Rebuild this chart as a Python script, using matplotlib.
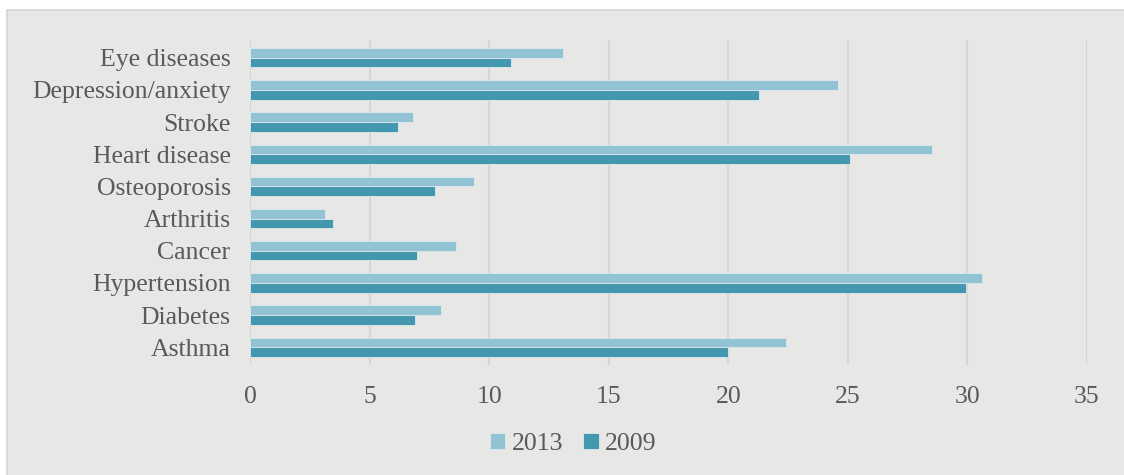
import matplotlib.pyplot as plt
from matplotlib.patches import Rectangle
import numpy as np

categories = ['Eye diseases', 'Depression/anxiety', 'Stroke', 'Heart disease',
              'Osteoporosis', 'Arthritis', 'Cancer', 'Hypertension', 'Diabetes', 'Asthma']
values_2013 = [13.1, 24.6, 6.8, 28.5, 9.35, 3.15, 8.6, 30.6, 8.0, 22.4]
values_2009 = [10.9, 21.3, 6.2, 25.1, 7.75, 3.45, 7.0, 29.95, 6.9, 20.0]
xticks = [0, 5, 10, 15, 20, 25, 30, 35]

c2013 = '#92c3d5'
c2009 = '#4398b0'
bg = '#e7e7e6'
txt = '#595959'
fs = 18.5

plt.rcParams['font.family'] = ['Liberation Serif', 'DejaVu Serif']

fig = plt.figure(figsize=(11.24, 4.75), dpi=100)
fig.patch.set_facecolor('white')
# gray panel with light border
panel = Rectangle((7 / 1124, -0.01), 1.02, 1 - 10 / 475 + 0.01, transform=fig.transFigure,
                  facecolor=bg, edgecolor='#d4d4d4', linewidth=1.2, zorder=-10)
fig.patches.append(panel)

ax = fig.add_axes([250 / 1124, 1 - 365 / 475, (1087 - 250) / 1124, (365 - 40) / 475])
ax.set_facecolor('none')

n = len(categories)
y = np.arange(n)[::-1]
h = 0.3
ax.barh(y + h / 2, values_2013, height=h, color=c2013, edgecolor='#dfe9ec', linewidth=0.6, label='2013', zorder=3)
ax.barh(y - h / 2, values_2009, height=h, color=c2009, edgecolor='#dfe9ec', linewidth=0.6, label='2009', zorder=3)

ax.set_xlim(0, 35)
ax.set_ylim(-0.55, n - 0.45)
ax.set_xticks(xticks)
ax.set_xticklabels([str(t) for t in xticks])
ax.set_yticks(y)
ax.set_yticklabels(categories)
ax.tick_params(axis='both', length=0, colors=txt, labelsize=fs)
ax.tick_params(axis='x', pad=15)
ax.tick_params(axis='y', pad=14)
ax.xaxis.grid(True, color='#d6d6d6', linewidth=1.5, zorder=0)
for s in ax.spines.values():
    s.set_visible(False)

leg = fig.legend(handles=ax.get_legend_handles_labels()[0], labels=['2013', '2009'],
                 loc='center', bbox_to_anchor=(573 / 1124, 1 - 444 / 475), ncol=2, frameon=False,
                 fontsize=fs, handlelength=0.62, handleheight=0.62, handletextpad=0.25,
                 columnspacing=0.75, labelcolor=txt)

fig.savefig('out.png', dpi=100, facecolor='white')
